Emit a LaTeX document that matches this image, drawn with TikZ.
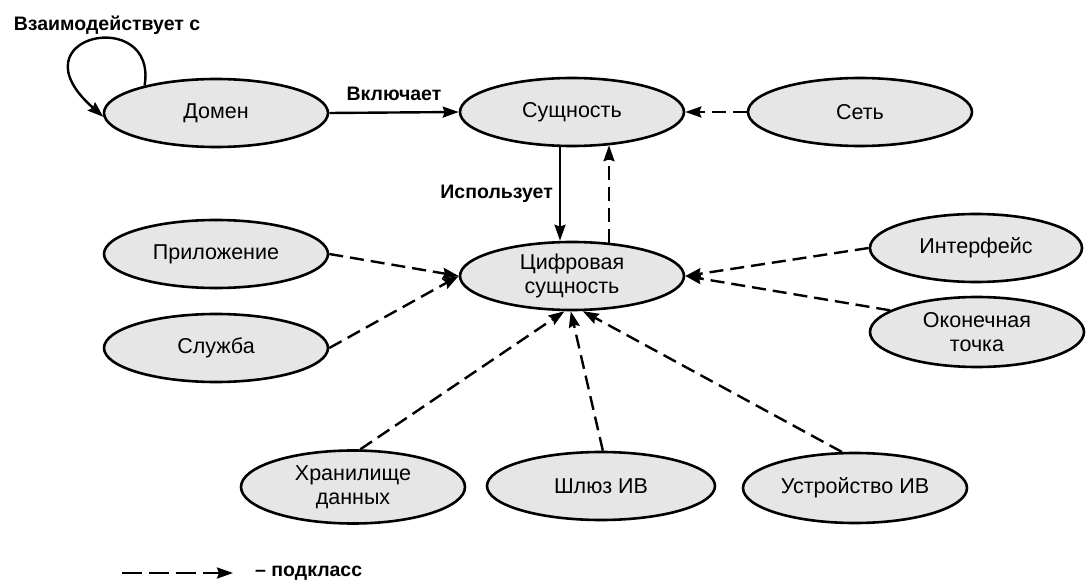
\documentclass[tikz,border=0pt]{standalone}
\usepackage{fontspec}
\setmainfont{Liberation Sans}
\usetikzlibrary{shapes.geometric,arrows.meta}

\definecolor{nodefill}{HTML}{E6E6E6}

\tikzset{
  entity/.style={ellipse, draw=black, fill=nodefill, line width=2.6pt,
    minimum width=224pt, minimum height=68pt, inner sep=0pt,
    align=center, font=\fontsize{21.5}{24}\selectfont},
  relation/.style={line width=2.4pt, -{Stealth[length=16pt,width=11pt,inset=2pt]}},
  subclass/.style={relation, dash pattern=on 14pt off 7pt},
  edgelabel/.style={inner sep=0pt, font=\fontsize{19.5}{22}\selectfont\bfseries}
}

\begin{document}
\begin{tikzpicture}[x=1pt,y=1pt]
\useasboundingbox (0,0) rectangle (1087,-585);

% entities
\node[entity] (dom)   at (216,-113) {Домен};
\node[entity] (ent)   at (572,-112) {Сущность};
\node[entity] (net)   at (860,-112) {Сеть};
\node[entity] (app)   at (216,-254) {Приложение};
\node[entity] (dig)   at (572,-276) {Цифровая\\сущность};
\node[entity, minimum width=212pt] (iface) at (976,-248) {Интерфейс};
\node[entity] (svc)   at (216,-348) {Служба};
\node[entity, minimum width=214pt, minimum height=70pt] (endp) at (977,-332) {Оконечная\\точка};
\node[entity, minimum height=73pt] (stor) at (353,-487) {Хранилище\\данных};
\node[entity, minimum width=228pt] (gw)  at (601,-486) {Шлюз ИВ};
\node[entity, minimum height=70pt] (dev)   at (855,-488) {Устройство ИВ};

% associations
\node[edgelabel] (interacts) at (107,-25) {Взаимодействует с};
\draw[relation] (dom.159) .. controls (158,-5) and (10,-35) .. (dom.182);

\draw[relation] (dom.east) -- node[edgelabel, midway, above=11pt] (includes) {Включает} (ent.west);
\draw[relation] ([xshift=-12pt]ent.south) -- node[edgelabel, midway, left=6pt] (uses) {Использует} ([xshift=-12pt]dig.north);

% subclasses
\draw[subclass] (net.west) -- (ent.east);
\draw[subclass] ([shift={(37,-2)}]dig.north) -- ([shift={(37,2)}]ent.south);
\draw[subclass] (app.east) -- (dig.west);
\draw[subclass] (svc.east) -- (dig.west);
\draw[subclass] (iface.west) -- (dig.east);
\draw[subclass] (endp.166) -- (dig.east);
\draw[subclass] (stor.79) -- (dig.258);
\draw[subclass] (gw.87) -- (dig.268);
\draw[subclass] (dev.110) -- (dig.287);

% legend
\coordinate (legA) at (122,-573);
\coordinate (legB) at (233,-573);
\draw[relation, dash pattern=on 20pt off 7pt] (legA) -- (legB);
\node[edgelabel, anchor=west] (legtext) at (255,-573) {– подкласс};
\end{tikzpicture}
\end{document}
